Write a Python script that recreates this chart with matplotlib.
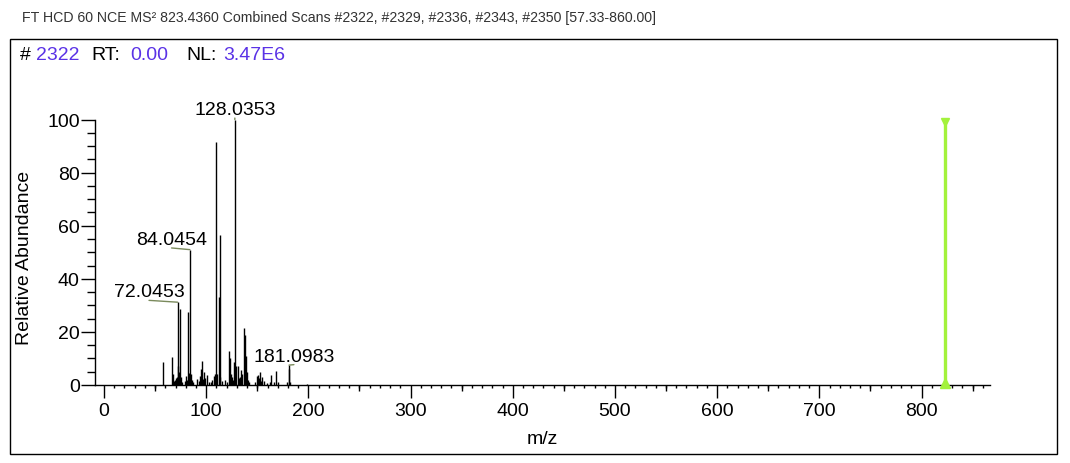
import numpy as np
import matplotlib
matplotlib.use("Agg")
import matplotlib.pyplot as plt
from matplotlib.ticker import MultipleLocator, FixedLocator
from matplotlib.patches import Rectangle

plt.rcParams['font.family'] = ['Liberation Sans', 'DejaVu Sans']

# centroid peaks (m/z, relative abundance %)
mz = [57.9, 66.4, 67.4, 68.6, 69.5, 70.5, 71.2, 72.0453, 72.6, 73.0, 74.2, 75.0, 76.0,
      79.5, 80.5, 81.3, 82.05, 83.0, 84.0454, 85.0, 86.0, 87.1,
      91.2, 92.5, 93.5, 94.5, 95.8, 96.6, 97.7, 98.5, 101.0, 102.3,
      105.2, 106.0, 107.5, 108.5, 109.2, 110.0712, 111.0, 112.4, 113.4, 114.0, 115.1,
      118.5, 120.2, 121.9, 123.2, 124.0, 125.5, 126.3, 127.1, 128.0353, 129.5, 131.0, 132.0,
      133.5, 134.4, 135.2, 136.9, 138.2, 139.2, 140.1, 141.0, 142.2,
      147.5, 149.3, 150.5, 151.5, 152.5, 153.4, 154.5, 156.5, 159.6,
      162.5, 163.5, 166.0, 168.2, 170.1, 179.2, 181.0983, 181.5, 182.5, 198.2]
intensity = [8.5, 10.4, 4.1, 1.5, 2.0, 2.5, 3.0, 31.2, 7.0, 5.0, 28.6, 3.0, 1.2,
             1.5, 3.5, 2.0, 27.4, 4.5, 51.0, 4.0, 2.0, 1.0,
             2.3, 1.5, 3.5, 6.0, 8.9, 2.2, 5.0, 2.5, 3.8, 1.2,
             1.0, 2.0, 3.5, 4.0, 4.2, 91.5, 4.0, 33.0, 56.5, 3.0, 1.5,
             2.0, 1.2, 12.9, 10.0, 4.0, 3.0, 2.0, 8.5, 100.0, 7.0, 7.0, 2.5,
             3.0, 5.5, 4.0, 21.4, 18.8, 11.0, 4.8, 2.0, 1.0,
             1.0, 3.3, 3.8, 2.5, 4.8, 1.5, 2.9, 1.6, 0.8,
             1.2, 3.8, 1.0, 5.3, 1.0, 1.0, 7.5, 6.0, 1.2, 0.4]

labelled = [72.0453, 84.0454, 128.0353, 181.0983]
label_offsets = [(-20.6, 4.2), (-13.2, 4.1), (0.0, 4.0), (3.5, 3.2)]  # points

precursor_mz = 823.436
precursor_int = 99.0

fig = plt.figure(figsize=(10.7, 4.64), dpi=100)
ax = fig.add_axes([95 / 1070, 78 / 464, 895 / 1070, 306 / 464])

ax.vlines(mz, 0, intensity, color='black', lw=1.0)

# precursor marker
ax.vlines([precursor_mz], 0, [precursor_int], color='#a3f23c', lw=2.4, zorder=3)
ax.plot([precursor_mz], [precursor_int], marker='v', color='#a3f23c', ms=6, zorder=4)
ax.plot([precursor_mz], [0.8], marker='^', color='#a3f23c', ms=7, zorder=4, clip_on=False)

for m, (dx, dy) in zip(labelled, label_offsets):
    y = intensity[mz.index(m)]
    ax.annotate(f"{m:.4f}", xy=(m, y), xytext=(dx, dy), textcoords='offset points',
                ha='center', va='baseline', fontsize=14,
                arrowprops=dict(arrowstyle='-', color='#7a8a5c', lw=1.0,
                                relpos=(0.5, 0.0), shrinkA=0, shrinkB=0))

ax.set_xlim(-8.8, 867)
ax.set_ylim(0, 115.3)

for s in ['top', 'right']:
    ax.spines[s].set_visible(False)
ax.spines['left'].set_bounds(0, 100)
for s in ['left', 'bottom']:
    ax.spines[s].set_linewidth(1.0)

ax.set_xticks(np.arange(0, 801, 100))
ax.xaxis.set_minor_locator(MultipleLocator(10))
ax.set_yticks(np.arange(0, 101, 20))
ax.yaxis.set_minor_locator(FixedLocator(np.arange(5, 100, 5)))
ax.tick_params(axis='x', which='major', length=9, width=1, pad=3, labelsize=14)
ax.tick_params(axis='x', which='minor', length=2, width=1)
ax.tick_params(axis='y', which='major', length=10, width=1, pad=1, labelsize=14)
ax.tick_params(axis='y', which='minor', length=6, width=1)

# medium ticks at the 50s
sec = ax.secondary_xaxis('bottom')
sec.set_xticks(np.arange(50, 851, 100))
sec.tick_params(length=4.5, width=1, labelbottom=False)
sec.spines['bottom'].set_visible(False)

ax.set_xlabel('m/z', fontsize=14, labelpad=8)
ax.set_ylabel('Relative Abundance', fontsize=14)
ax.yaxis.set_label_coords(-0.069, 0.418)

# header line inside the frame
hy = 1 - 56 / 464
purple = '#5a32e6'
pieces = [('#', 20, 'black'), ('2322', 36, purple), ('RT:', 91, 'black'),
          ('0.00', 130, purple), ('NL:', 186, 'black'), ('3.47E6', 223, purple)]
for txt, px, col in pieces:
    fig.text(px / 1070, hy, txt, color=col, fontsize=14, ha='left', va='center')

fig.text(22 / 1070, 1 - 18 / 464,
         'FT HCD 60 NCE MS\u00b2 823.4360 Combined Scans #2322, #2329, #2336, #2343, #2350 [57.33-860.00]',
         fontsize=10.2, color='#333333', ha='left', va='center')

fig.add_artist(Rectangle((10 / 1070, 9 / 464), 1047 / 1070, 415 / 464,
                         transform=fig.transFigure, fill=False, ec='black', lw=1.0))

fig.savefig('out.png', dpi=100)
